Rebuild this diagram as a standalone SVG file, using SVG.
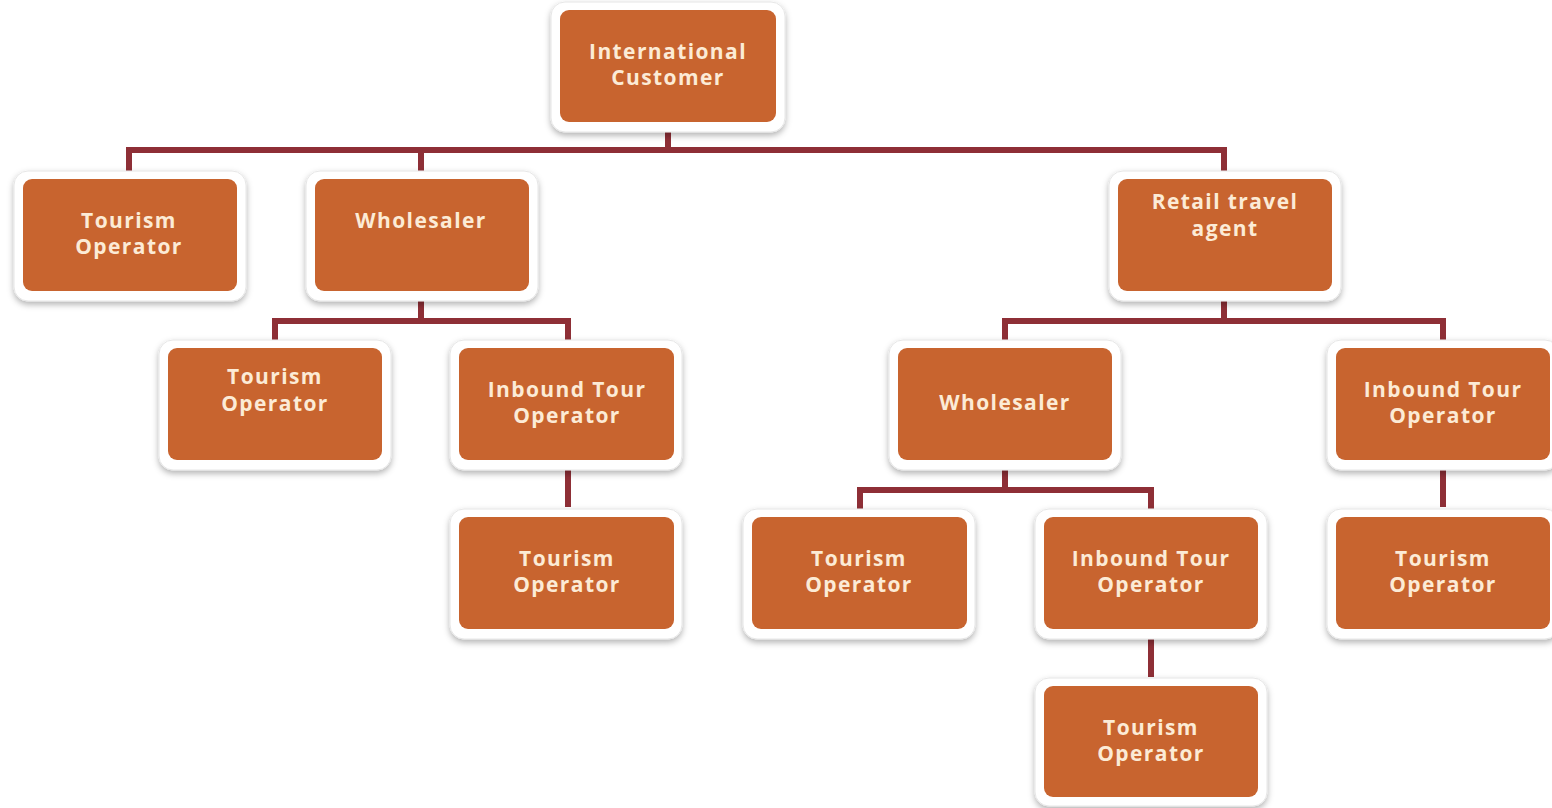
<svg xmlns="http://www.w3.org/2000/svg" width="1552" height="808" viewBox="0 0 1552 808">
<style>
.frame{fill:#ffffff;stroke:#e6e6e6;stroke-width:1;filter:url(#sh)}
.box{fill:#C8642F}
.t{font-family:"Open Sans","Liberation Sans",sans-serif;font-weight:700;font-size:21px;fill:#FCEBD6;text-anchor:middle;dominant-baseline:central;letter-spacing:1.4px}
.c{fill:none;stroke:#8E2F36;stroke-width:6}
</style>
<defs>
<filter id="sh" x="-10%" y="-10%" width="120%" height="130%">
<feDropShadow dx="0" dy="3" stdDeviation="3" flood-color="#000" flood-opacity="0.3"/>
</filter>
</defs>
<rect width="1552" height="808" fill="#ffffff"/>
<g id="connectors">
<path class="c" d="M668 122V150M129 179V150H1224V179M421 150V179"/>
<path class="c" d="M421 291V321M275 348V321H568V348"/>
<path class="c" d="M1224 291V321M1005 348V321H1443V348"/>
<path class="c" d="M568 460V507"/>
<path class="c" d="M1005 460V490M860 517V490H1151V517"/>
<path class="c" d="M1443 460V507"/>
<path class="c" d="M1151 629V677"/>
</g>
<g id="n-root"><rect class="frame" x="551" y="2" width="234" height="130" rx="14"/><rect class="box" x="560" y="10" width="216" height="112" rx="9"/><text class="t" x="668" y="51">International</text><text class="t" x="668" y="77">Customer</text></g>
<g id="n-to1"><rect class="frame" x="14" y="171" width="232" height="130" rx="14"/><rect class="box" x="23" y="179" width="214" height="112" rx="9"/><text class="t" x="129" y="220">Tourism</text><text class="t" x="129" y="246">Operator</text></g>
<g id="n-ws1"><rect class="frame" x="306" y="171" width="232" height="130" rx="14"/><rect class="box" x="315" y="179" width="214" height="112" rx="9"/><text class="t" x="421" y="220">Wholesaler</text></g>
<g id="n-rta"><rect class="frame" x="1109" y="171" width="232" height="130" rx="14"/><rect class="box" x="1118" y="179" width="214" height="112" rx="9"/><text class="t" x="1225" y="201">Retail travel</text><text class="t" x="1225" y="228">agent</text></g>
<g id="n-to2"><rect class="frame" x="159" y="340" width="232" height="130" rx="14"/><rect class="box" x="168" y="348" width="214" height="112" rx="9"/><text class="t" x="275" y="376">Tourism</text><text class="t" x="275" y="403">Operator</text></g>
<g id="n-ito1"><rect class="frame" x="450" y="340" width="232" height="130" rx="14"/><rect class="box" x="459" y="348" width="215" height="112" rx="9"/><text class="t" x="567" y="389">Inbound Tour</text><text class="t" x="567" y="415">Operator</text></g>
<g id="n-ws2"><rect class="frame" x="889" y="340" width="232" height="130" rx="14"/><rect class="box" x="898" y="348" width="214" height="112" rx="9"/><text class="t" x="1005" y="402">Wholesaler</text></g>
<g id="n-ito2"><rect class="frame" x="1327" y="340" width="232" height="130" rx="14"/><rect class="box" x="1336" y="348" width="214" height="112" rx="9"/><text class="t" x="1443" y="389">Inbound Tour</text><text class="t" x="1443" y="415">Operator</text></g>
<g id="n-to3"><rect class="frame" x="450" y="509" width="232" height="130" rx="14"/><rect class="box" x="459" y="517" width="215" height="112" rx="9"/><text class="t" x="567" y="558">Tourism</text><text class="t" x="567" y="584">Operator</text></g>
<g id="n-to4"><rect class="frame" x="743" y="509" width="232" height="130" rx="14"/><rect class="box" x="752" y="517" width="215" height="112" rx="9"/><text class="t" x="859" y="558">Tourism</text><text class="t" x="859" y="584">Operator</text></g>
<g id="n-ito3"><rect class="frame" x="1035" y="509" width="232" height="130" rx="14"/><rect class="box" x="1044" y="517" width="214" height="112" rx="9"/><text class="t" x="1151" y="558">Inbound Tour</text><text class="t" x="1151" y="584">Operator</text></g>
<g id="n-to5"><rect class="frame" x="1327" y="509" width="232" height="130" rx="14"/><rect class="box" x="1336" y="517" width="214" height="112" rx="9"/><text class="t" x="1443" y="558">Tourism</text><text class="t" x="1443" y="584">Operator</text></g>
<g id="n-to6"><rect class="frame" x="1035" y="678" width="232" height="128" rx="14"/><rect class="box" x="1044" y="686" width="214" height="111" rx="9"/><text class="t" x="1151" y="727">Tourism</text><text class="t" x="1151" y="753">Operator</text></g>
</svg>
